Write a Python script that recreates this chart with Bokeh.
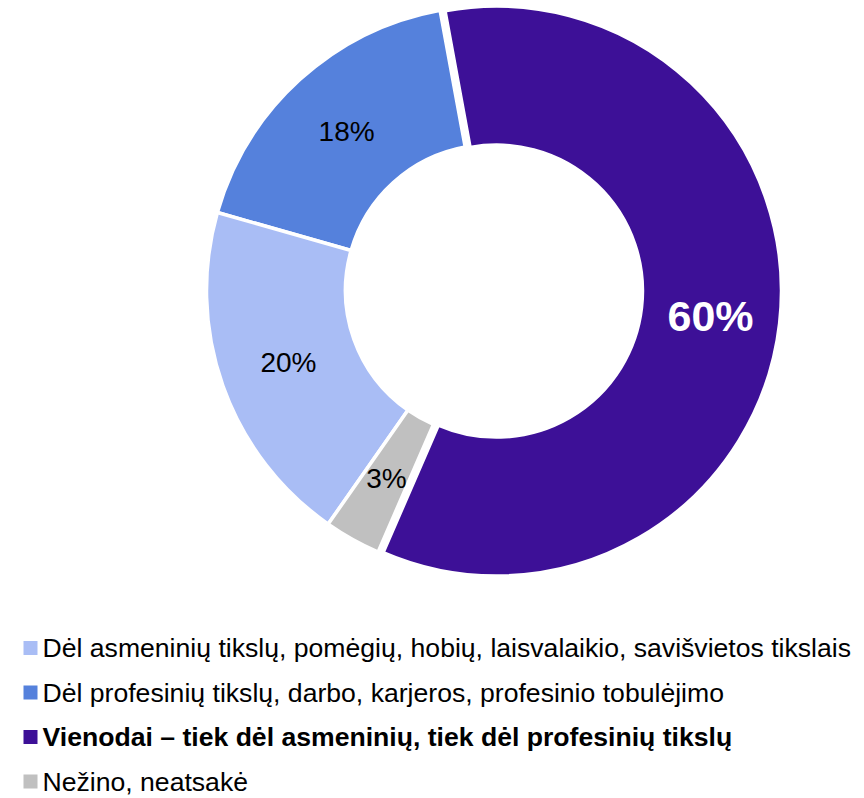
import numpy as np
from bokeh.plotting import figure
from bokeh.models import Range1d, ColumnDataSource
from bokeh.embed import file_html
from bokeh.resources import INLINE
from bokeh.core.properties import value

# ---- data ----
categories = [
    "Dėl asmeninių tikslų, pomėgių, hobių, laisvalaikio, savišvietos tikslais",
    "Dėl profesinių tikslų, darbo, karjeros, profesinio tobulėjimo",
    "Vienodai – tiek dėl asmeninių, tiek dėl profesinių tikslų",
    "Nežino, neatsakė",
]
shares = [19.7, 17.7, 59.4, 3.2]
pct_labels = ["20%", "18%", "60%", "3%"]
colors = ["#A9BDF5", "#5581DC", "#3D1097", "#C0C0C0"]
label_colors = ["black", "black", "white", "black"]
label_styles = ["normal", "normal", "bold", "normal"]
label_sizes = ["28px", "28px", "43px", "28px"]
legend_styles = ["normal", "normal", "bold", "normal"]
pie_order = [1, 0, 3, 2]  # counter-clockwise from start angle
explode = [0, 0, 5, 0]

W, H = 864, 798
p = figure(width=W, height=H, output_backend="svg", toolbar_location=None,
           x_range=Range1d(0, W), y_range=Range1d(0, H), min_border=0)
p.axis.visible = False
p.grid.visible = False
p.outline_line_color = None
p.background_fill_color = "white"
p.border_fill_color = "white"

cx, cy = 491, H - 290
r_in, r_out = 146, 285
start = np.deg2rad(100.4)
total = sum(shares)

ang = start
wx, wy, sa, ea, wc = [], [], [], [], []
lx, ly, lt, lc, ls, lz = [], [], [], [], [], []
for i in pie_order:
    span = shares[i] / total * 2 * np.pi
    mid = ang + span / 2
    ox = explode[i] * np.cos(mid)
    oy = explode[i] * np.sin(mid)
    wx.append(cx + ox); wy.append(cy + oy)
    sa.append(ang); ea.append(ang + span); wc.append(colors[i])
    rl = (r_in + r_out) / 2
    lx.append(cx + ox + rl * np.cos(mid)); ly.append(cy + oy + rl * np.sin(mid))
    lt.append(pct_labels[i]); lc.append(label_colors[i]); ls.append(label_styles[i]); lz.append(label_sizes[i])
    ang += span

p.annular_wedge(x="x", y="y", inner_radius=r_in, outer_radius=r_out,
                start_angle="sa", end_angle="ea", fill_color="c",
                line_color="white", line_width=3.5,
                source=ColumnDataSource(dict(x=wx, y=wy, sa=sa, ea=ea, c=wc)))

p.text(x="x", y="y", text="t", text_color="c", text_font_style="s", text_font_size="z",
       text_align="center", text_baseline="middle", text_font=value("Liberation Sans"),
       source=ColumnDataSource(dict(x=lx, y=ly, t=lt, c=lc, s=ls, z=lz)))

# legend
n = len(categories)
sq_y = [H - 647.5 - k * 44.5 for k in range(n)]
p.rect(x=[30] * n, y=sq_y, width=14, height=14, fill_color=colors, line_color=None)
p.text(x=[42] * n, y=sq_y, text=categories, text_font_style=legend_styles,
       text_font_size="26.6px", text_color="black", text_align="left", text_baseline="middle",
       text_font=value("Liberation Sans"))

open("out.html", "w").write(file_html(p, INLINE))
